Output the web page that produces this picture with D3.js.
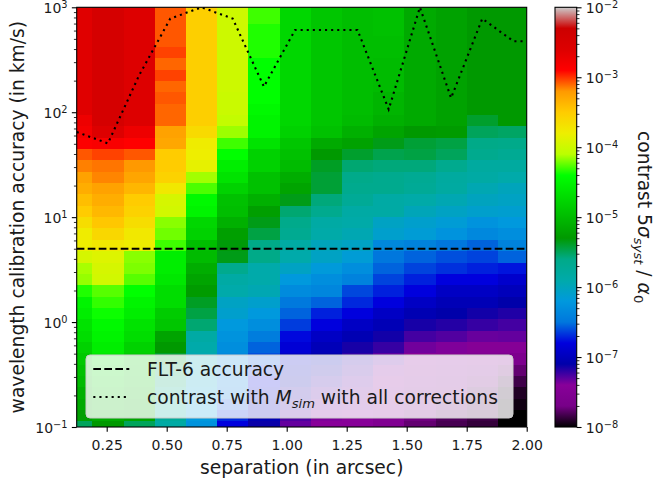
<!DOCTYPE html>
<html>
<head>
<meta charset="utf-8">
<script src="https://cdn.jsdelivr.net/npm/d3@7"></script>
<style>
  html, body { margin: 0; padding: 0; background: #ffffff; }
  svg { display: block; font-family: "DejaVu Sans", sans-serif; }
</style>
</head>
<body>
<svg id="chart" width="655" height="486"></svg>
<script>
// Angular separation of each simulated column (arcsec)
const separations = [0.125, 0.255, 0.385, 0.515, 0.645, 0.775, 0.905, 1.035,
                     1.165, 1.295, 1.425, 1.555, 1.685, 1.815, 1.945];

// Wavelength calibration accuracy of each row (km/s)
const accuracies = [0.1, 0.1282, 0.1645, 0.2110, 0.2706, 0.3471, 0.4453, 0.5711,
                    0.7326, 0.9397, 1.2054, 1.5462, 1.9833, 2.544, 3.2633, 4.186,
                    5.3693, 6.8874, 8.8343, 11.33, 14.53, 18.64, 23.91, 30.67,
                    39.34, 50.46, 64.73, 83.03, 106.4, 136.6, 175.2, 224.7,
                    288.2, 369.7, 474.2, 608.3, 780.3, 1000];

// log10 of the 5-sigma systematic contrast, one list per separation,
// ordered from the lowest to the highest calibration accuracy
const logContrast = [
  [-5.5, -5.25, -5.15, -5.1, -5.0, -4.95, -4.88, -4.8, -4.7, -4.65, -4.55, -4.5, -4.35, -4.16, -4.13, -3.95, -3.8, -3.78, -3.65, -3.5, -3.42, -3.32, -3.25, -3.15, -3.07, -2.88, -2.8, -2.75, -2.63, -2.63, -2.63, -2.63, -2.63, -2.63, -2.63, -2.63, -2.63, -2.63],
  [-5.3, -5.15, -5.0, -4.9, -4.8, -4.7, -4.6, -4.55, -4.5, -4.45, -4.38, -4.32, -4.26, -3.97, -3.95, -3.9, -3.75, -3.6, -3.47, -3.38, -3.32, -3.25, -3.16, -3.13, -3.03, -2.85, -2.6, -2.45, -2.45, -2.45, -2.45, -2.45, -2.45, -2.45, -2.45, -2.45, -2.45, -2.45],
  [-5.5, -5.2, -5.1, -5.0, -4.95, -4.9, -4.85, -4.8, -4.7, -4.65, -4.55, -4.5, -4.4, -4.26, -4.2, -4.18, -3.8, -3.75, -3.65, -3.55, -3.5, -3.37, -3.27, -3.2, -3.07, -2.9, -2.75, -2.6, -2.6, -2.6, -2.6, -2.6, -2.6, -2.6, -2.6, -2.6, -2.6, -2.6],
  [-5.85, -5.75, -5.7, -5.6, -5.55, -5.5, -5.4, -5.3, -5.2, -4.9, -4.85, -4.7, -4.7, -4.6, -4.55, -4.55, -4.3, -4.22, -4.18, -3.97, -3.95, -3.75, -3.55, -3.5, -3.5, -3.28, -3.25, -3.1, -3.1, -3.07, -3.1, -3.03, -3.1, -3.03, -3.07, -3.07, -3.07, -3.07],
  [-6.25, -6.2, -6.15, -6.1, -6.05, -6.0, -5.95, -5.9, -5.85, -5.55, -5.45, -5.38, -5.28, -5.2, -5.12, -5.0, -4.97, -4.8, -4.75, -4.5, -4.45, -4.28, -4.14, -3.85, -3.8, -3.78, -3.62, -3.53, -3.53, -3.53, -3.53, -3.53, -3.53, -3.53, -3.53, -3.53, -3.53, -3.53],
  [-6.8, -6.7, -6.6, -6.5, -6.45, -6.4, -6.35, -6.3, -6.25, -6.2, -6.1, -6.05, -5.9, -5.85, -5.65, -5.35, -5.32, -5.25, -5.1, -4.97, -4.95, -4.8, -4.65, -4.55, -4.4, -4.3, -4.15, -4.05, -4.02, -4.02, -4.0, -4.0, -4.0, -4.0, -4.0, -4.0, -4.0, -4.0],
  [-7.12, -7.05, -7.0, -6.9, -6.8, -6.7, -6.6, -6.55, -6.45, -6.3, -6.2, -6.1, -5.95, -5.9, -5.9, -5.6, -5.6, -5.45, -5.35, -5.25, -5.1, -4.95, -4.95, -4.8, -4.8, -4.65, -4.5, -4.5, -4.45, -4.4, -4.4, -4.4, -4.4, -4.35, -4.35, -4.35, -4.3, -4.3],
  [-7.32, -7.27, -7.22, -7.18, -7.12, -7.05, -6.95, -6.85, -6.78, -6.65, -6.55, -6.48, -6.32, -6.2, -6.05, -5.9, -5.85, -5.68, -5.63, -5.55, -5.35, -5.2, -5.12, -5.0, -4.95, -4.9, -4.8, -4.75, -4.75, -4.75, -4.75, -4.75, -4.75, -4.75, -4.75, -4.75, -4.75, -4.75],
  [-7.4, -7.38, -7.33, -7.28, -7.22, -7.15, -7.08, -7.02, -6.95, -6.8, -6.72, -6.55, -6.37, -6.3, -6.18, -6.05, -6.0, -5.88, -5.85, -5.65, -5.57, -5.42, -5.42, -5.38, -5.3, -5.15, -4.95, -4.9, -4.9, -4.9, -4.9, -4.9, -4.9, -4.9, -4.9, -4.9, -4.9, -4.9],
  [-7.42, -7.4, -7.36, -7.33, -7.3, -7.25, -7.2, -7.15, -7.05, -6.95, -6.8, -6.7, -6.62, -6.4, -6.3, -6.15, -6.05, -5.95, -5.88, -5.85, -5.72, -5.65, -5.62, -5.55, -5.4, -5.22, -5.1, -5.0, -4.97, -4.97, -4.97, -4.97, -4.97, -4.97, -4.97, -4.97, -4.97, -4.97],
  [-7.55, -7.53, -7.5, -7.48, -7.43, -7.38, -7.3, -7.22, -7.14, -7.03, -6.95, -6.8, -6.72, -6.63, -6.55, -6.5, -6.35, -6.1, -6.05, -5.85, -5.85, -5.65, -5.65, -5.57, -5.47, -5.35, -5.2, -5.1, -5.05, -5.05, -5.0, -5.0, -5.0, -4.97, -4.97, -4.95, -4.95, -4.95],
  [-7.75, -7.72, -7.68, -7.63, -7.58, -7.52, -7.45, -7.35, -7.25, -7.15, -7.05, -6.95, -6.8, -6.72, -6.63, -6.55, -6.4, -6.15, -6.1, -5.98, -5.88, -5.72, -5.7, -5.57, -5.45, -5.42, -5.3, -5.15, -5.15, -5.15, -5.15, -5.15, -5.15, -5.15, -5.15, -5.15, -5.15, -5.15],
  [-7.82, -7.8, -7.75, -7.7, -7.65, -7.58, -7.48, -7.38, -7.28, -7.18, -7.1, -7.03, -6.95, -6.8, -6.68, -6.6, -6.5, -6.25, -6.15, -6.05, -5.95, -5.82, -5.8, -5.65, -5.5, -5.45, -5.28, -5.22, -5.22, -5.22, -5.22, -5.22, -5.22, -5.22, -5.22, -5.22, -5.22, -5.22],
  [-7.87, -7.85, -7.82, -7.78, -7.72, -7.65, -7.55, -7.45, -7.33, -7.22, -7.14, -7.03, -6.95, -6.8, -6.72, -6.63, -6.55, -6.35, -6.25, -6.1, -6.02, -5.95, -5.85, -5.8, -5.65, -5.6, -5.5, -5.4, -5.3, -5.3, -5.3, -5.3, -5.3, -5.3, -5.3, -5.3, -5.3, -5.3],
  [-8.0, -8.0, -7.96, -7.92, -7.84, -7.75, -7.6, -7.45, -7.32, -7.25, -7.17, -7.1, -7.0, -6.9, -6.75, -6.55, -6.4, -6.3, -6.2, -6.12, -6.05, -6.0, -5.9, -5.8, -5.7, -5.62, -5.52, -5.3, -5.3, -5.3, -5.3, -5.3, -5.3, -5.3, -5.3, -5.3, -5.3, -5.3]
];

// Accuracy reached by the simulated model with all corrections
const curveSeparations = [0.125, 0.255, 0.385, 0.515, 0.645, 0.775, 0.905, 1.035,
                          1.165, 1.295, 1.425, 1.555, 1.685, 1.815, 1.945, 2.0];
const curveAccuracy = [64.73, 50.46, 224.7, 780.3, 1000, 780.3, 175.2, 608.3,
                       608.3, 608.3, 106.4, 1000, 136.6, 780.3, 474.2, 474.2];

// FLT-6 calibration accuracy (km/s)
const flt6Accuracy = 5;

// Tick values
const xTicks = [0.25, 0.5, 0.75, 1.0, 1.25, 1.5, 1.75, 2.0];
const yTickExponents = [-1, 0, 1, 2, 3];
const cbTickExponents = [-8, -7, -6, -5, -4, -3, -2];

// nipy_spectral colour map anchors
const nipyColors = ["#000000", "#770088", "#880099", "#0000aa", "#0000dd", "#0077dd",
                    "#0099dd", "#00aaaa", "#00aa88", "#009900", "#00bb00", "#00dd00",
                    "#00ff00", "#bbff00", "#eeee00", "#ffcc00", "#ff9900", "#ff0000",
                    "#dd0000", "#cc0000", "#cccccc"];
const nipyPos = nipyColors.map((_, i) => i / (nipyColors.length - 1));

const svg = d3.select("#chart");
const plot = { left: 76.7, right: 526.7, top: 7.3, bottom: 427 };
const cb = { left: 555, right: 576.7 };
const TXT = "#1a1a1a";
const tickFont = 14;
const labelFont = 18.7;
const majorLen = 4.86, minorLen = 2.78;

const x = d3.scaleLinear().domain([0.125, 2.0]).range([plot.left, plot.right]);
const y = d3.scaleLog().domain([0.1, 1000]).range([plot.bottom, plot.top]);
const norm = d3.scaleLog().domain([1e-8, 1e-2]).range([0, 1]).clamp(true);
const cmap = d3.scaleLinear().domain(nipyPos).range(nipyColors)
               .interpolate(d3.interpolateRgb).clamp(true);
const colour = v => cmap(norm(v));

// cell edges halfway between neighbouring centres (geometric for the log axis)
const xEdges = separations.map((v, i, c) => {
  const n = c.length;
  const lo = i === 0 ? v - (c[1] - c[0]) / 2 : (c[i - 1] + v) / 2;
  const hi = i === n - 1 ? v + (c[n - 1] - c[n - 2]) / 2 : (v + c[i + 1]) / 2;
  return [lo, hi];
});
const yEdges = accuracies.map((v, k, a) => {
  const r = k === 0 ? a[1] / a[0] : a[k] / a[k - 1];
  const lo = k === 0 ? v / Math.sqrt(r) : Math.sqrt(a[k - 1] * v);
  const hi = k === a.length - 1 ? v * Math.sqrt(r) : Math.sqrt(v * a[k + 1]);
  return [lo, hi];
});

const cells = [];
separations.forEach((s, i) => {
  accuracies.forEach((acc, k) => {
    cells.push({ x0: xEdges[i][0], x1: xEdges[i][1], y0: yEdges[k][0], y1: yEdges[k][1],
                 value: Math.pow(10, logContrast[i][k]) });
  });
});

const defs = svg.append("defs");
defs.append("clipPath").attr("id", "plot-clip")
  .append("rect")
  .attr("x", plot.left).attr("y", plot.top)
  .attr("width", plot.right - plot.left).attr("height", plot.bottom - plot.top);

// heat map
svg.append("g").attr("clip-path", "url(#plot-clip)")
  .selectAll("rect").data(cells).join("rect")
  .attr("x", d => x(d.x0))
  .attr("y", d => y(d.y1))
  .attr("width", d => x(d.x1) - x(d.x0))
  .attr("height", d => y(d.y0) - y(d.y1))
  .attr("fill", d => colour(d.value))
  .attr("shape-rendering", "crispEdges");

const lines = svg.append("g").attr("clip-path", "url(#plot-clip)");

// FLT-6 accuracy level
lines.append("line")
  .attr("x1", x(0.125)).attr("x2", x(2.0))
  .attr("y1", y(flt6Accuracy)).attr("y2", y(flt6Accuracy))
  .attr("stroke", "#000").attr("stroke-width", 2.08)
  .attr("stroke-dasharray", "7.7 3.3");

// contrast curve
const curve = d3.line().x(d => x(d[0])).y(d => y(d[1]));
lines.append("path")
  .datum(curveSeparations.map((s, i) => [s, curveAccuracy[i]]))
  .attr("d", curve)
  .attr("fill", "none").attr("stroke", "#000")
  .attr("stroke-width", 2.1).attr("stroke-dasharray", "2.1 4.0");

// x axis
const xAxis = svg.append("g").attr("transform", `translate(0,${plot.bottom})`)
  .call(d3.axisBottom(x).tickValues(xTicks).tickFormat(d3.format(".2f"))
        .tickSize(majorLen).tickPadding(4.86).tickSizeOuter(0));
xAxis.select(".domain").remove();
xAxis.selectAll(".tick line").attr("stroke", "#000").attr("stroke-width", 1.1);
xAxis.selectAll(".tick text")
  .attr("fill", TXT).attr("font-size", tickFont)
  .attr("font-family", "DejaVu Sans").attr("dy", null).attr("y", 23);

// y axis: major and minor ticks
const yMajor = yTickExponents.map(e => Math.pow(10, e));
const yMinor = [];
yTickExponents.slice(0, -1).forEach(e => {
  for (let m = 2; m <= 9; m++) yMinor.push(m * Math.pow(10, e));
});
const yAxisMinor = svg.append("g").attr("transform", `translate(${plot.left},0)`)
  .call(d3.axisLeft(y).tickValues(yMinor).tickFormat("").tickSize(minorLen).tickSizeOuter(0));
yAxisMinor.select(".domain").remove();
yAxisMinor.selectAll(".tick line").attr("stroke", "#000").attr("stroke-width", 0.83);
const yAxisMajor = svg.append("g").attr("transform", `translate(${plot.left},0)`)
  .call(d3.axisLeft(y).tickValues(yMajor).tickFormat("").tickSize(majorLen).tickSizeOuter(0));
yAxisMajor.select(".domain").remove();
yAxisMajor.selectAll(".tick line").attr("stroke", "#000").attr("stroke-width", 1.1);

// power-of-ten label helper
function powerLabel(g, exponent, px, py, anchor) {
  const t = g.append("text")
    .attr("x", px).attr("y", py)
    .attr("text-anchor", anchor)
    .attr("font-size", tickFont).attr("fill", TXT);
  t.append("tspan").text("10");
  t.append("tspan").attr("dy", -5).attr("font-size", tickFont * 0.7)
    .text(String(exponent).replace("-", "\u2212"));
}
const yLabels = svg.append("g");
yTickExponents.forEach(e => powerLabel(yLabels, e, plot.left - majorLen - 4.3, y(Math.pow(10, e)) + 6, "end"));

// plot frame
svg.append("rect")
  .attr("x", plot.left).attr("y", plot.top)
  .attr("width", plot.right - plot.left).attr("height", plot.bottom - plot.top)
  .attr("fill", "none").attr("stroke", "#000").attr("stroke-width", 1.1);

// axis titles
svg.append("text")
  .attr("x", (plot.left + plot.right) / 2).attr("y", 473.5)
  .attr("text-anchor", "middle").attr("font-size", labelFont).attr("fill", TXT)
  .text("separation (in arcsec)");
svg.append("text")
  .attr("transform", `translate(23.5,${(plot.top + plot.bottom) / 2}) rotate(-90)`)
  .attr("text-anchor", "middle").attr("font-size", labelFont).attr("fill", TXT)
  .text("wavelength calibration accuracy (in km/s)");

// legend
const legend = svg.append("g");
legend.append("rect")
  .attr("x", 86).attr("y", 355).attr("width", 427).attr("height", 63)
  .attr("rx", 4).attr("ry", 4)
  .attr("fill", "#ffffff").attr("fill-opacity", 0.8)
  .attr("stroke", "#cccccc").attr("stroke-width", 1);
legend.append("line")
  .attr("x1", 93.3).attr("x2", 129.3).attr("y1", 369).attr("y2", 369)
  .attr("stroke", "#000").attr("stroke-width", 2.08).attr("stroke-dasharray", "7.7 3.3");
legend.append("line")
  .attr("x1", 93.3).attr("x2", 129.3).attr("y1", 397).attr("y2", 397)
  .attr("stroke", "#000").attr("stroke-width", 2.1).attr("stroke-dasharray", "2.1 4.0");
legend.append("text")
  .attr("x", 147).attr("y", 375.8)
  .attr("font-size", labelFont).attr("fill", TXT)
  .text("FLT-6 accuracy");
const lt = legend.append("text")
  .attr("x", 147).attr("y", 403.8)
  .attr("font-size", labelFont).attr("fill", TXT);
lt.append("tspan").text("contrast with ");
lt.append("tspan").attr("font-style", "italic").text("M");
lt.append("tspan").attr("font-style", "italic").attr("font-size", labelFont * 0.7)
  .attr("dy", 4).text("sim");
lt.append("tspan").attr("dy", -4).text(" with all corrections");

// colour bar
const cbY = d3.scaleLog().domain([1e-8, 1e-2]).range([plot.bottom, plot.top]);
const grad = defs.append("linearGradient").attr("id", "cb-grad")
  .attr("x1", 0).attr("y1", 1).attr("x2", 0).attr("y2", 0);
grad.selectAll("stop").data(nipyPos).join("stop")
  .attr("offset", d => d)
  .attr("stop-color", (d, i) => nipyColors[i]);
svg.append("rect")
  .attr("x", cb.left).attr("y", plot.top)
  .attr("width", cb.right - cb.left).attr("height", plot.bottom - plot.top)
  .attr("fill", "url(#cb-grad)");

const cbMajor = cbTickExponents.map(e => Math.pow(10, e));
const cbMinor = [];
cbTickExponents.slice(0, -1).forEach(e => {
  for (let m = 2; m <= 9; m++) cbMinor.push(m * Math.pow(10, e));
});
const cbAxisMinor = svg.append("g").attr("transform", `translate(${cb.right},0)`)
  .call(d3.axisRight(cbY).tickValues(cbMinor).tickFormat("").tickSize(minorLen).tickSizeOuter(0));
cbAxisMinor.select(".domain").remove();
cbAxisMinor.selectAll(".tick line").attr("stroke", "#000").attr("stroke-width", 0.83);
const cbAxisMajor = svg.append("g").attr("transform", `translate(${cb.right},0)`)
  .call(d3.axisRight(cbY).tickValues(cbMajor).tickFormat("").tickSize(majorLen).tickSizeOuter(0));
cbAxisMajor.select(".domain").remove();
cbAxisMajor.selectAll(".tick line").attr("stroke", "#000").attr("stroke-width", 1.1);

svg.append("rect")
  .attr("x", cb.left).attr("y", plot.top)
  .attr("width", cb.right - cb.left).attr("height", plot.bottom - plot.top)
  .attr("fill", "none").attr("stroke", "#000").attr("stroke-width", 1.1);

const cbLabels = svg.append("g");
cbTickExponents.forEach(e => powerLabel(cbLabels, e, cb.right + majorLen + 4.3, cbY(Math.pow(10, e)) + 6, "start"));

// colour bar title
const ct = svg.append("text")
  .attr("transform", `translate(637.5,${(plot.top + plot.bottom) / 2}) rotate(90)`)
  .attr("text-anchor", "middle").attr("font-size", labelFont).attr("fill", TXT);
ct.append("tspan").text("contrast 5");
ct.append("tspan").attr("font-style", "italic").text("\u03c3");
ct.append("tspan").attr("font-style", "italic").attr("font-size", labelFont * 0.7)
  .attr("dy", 4).text("syst");
ct.append("tspan").attr("dy", -4).text(" / ");
ct.append("tspan").attr("font-style", "italic").text("\u03b1");
ct.append("tspan").attr("font-size", labelFont * 0.7).attr("dy", 4).text("0");
</script>
</body>
</html>
